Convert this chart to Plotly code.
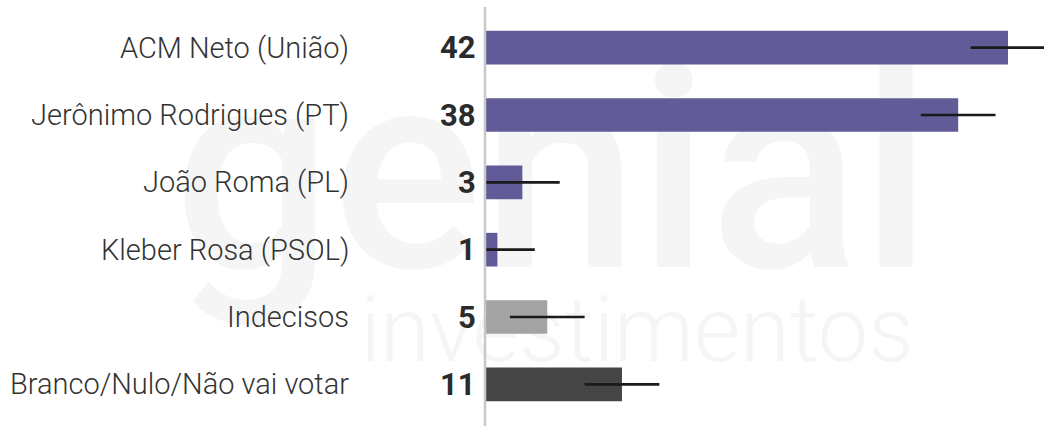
import plotly.graph_objects as go

categories = ["ACM Neto (União)", "Jerônimo Rodrigues (PT)", "João Roma (PL)",
              "Kleber Rosa (PSOL)", "Indecisos", "Branco/Nulo/Não vai votar"]
values = [42, 38, 3, 1, 5, 11]
margin_error = [3, 3, 3, 3, 3, 3]
bar_colors = ["#615b98", "#615b98", "#615b98", "#615b98", "#a3a3a3", "#454545"]

W, H = 1044, 426
L, R, T, B = 485, 0, 14, 8
pw = W - L - R
ph = H - T - B
px_per_unit = (1008 - 485) / 42


def px_x(page_x):
    return (page_x - L) / pw


def px_y(page_y):
    return (H - B - page_y) / ph


fig = go.Figure()
fig.add_trace(go.Bar(
    y=categories, x=values, orientation="h",
    marker=dict(color=bar_colors, line=dict(width=0)),
    error_x=dict(type="data", array=margin_error, visible=True,
                 color="#1a1a1a", thickness=2.6, width=0),
    width=0.5, hoverinfo="skip",
))

annotations = []
for c, v in zip(categories, values):
    annotations.append(dict(x=px_x(351), xref="paper", y=c, yref="y",
                            text=c, showarrow=False, xanchor="right",
                            font=dict(family="Roboto", size=29, color="#333333", weight=300)))
    annotations.append(dict(x=px_x(478), xref="paper", y=c, yref="y",
                            text=str(v), showarrow=False, xanchor="right",
                            font=dict(family="Roboto", size=31, color="#2b2b2b", weight=700)))

shapes = [
    # watermark
    dict(type="rect", xref="paper", yref="paper", layer="below",
         x0=px_x(190), x1=px_x(915), y0=px_y(296), y1=px_y(6),
         line=dict(width=0), fillcolor="rgba(0,0,0,0)",
         label=dict(text="genial", textposition="middle center",
                    font=dict(family="Roboto", size=280, color="#f5f5f5", weight=500))),
    dict(type="rect", xref="paper", yref="paper", layer="below",
         x0=px_x(358), x1=px_x(916), y0=px_y(368), y1=px_y(278),
         line=dict(width=0), fillcolor="rgba(0,0,0,0)",
         label=dict(text="investimentos", textposition="middle center",
                    font=dict(family="Roboto", size=90, color="#f5f5f5", weight=300))),
    # axis line
    dict(type="line", xref="paper", yref="paper", x0=0, x1=0,
         y0=px_y(430), y1=px_y(7),
         line=dict(color="#c8c8c8", width=2.5), layer="above"),
]

fig.update_layout(
    width=W, height=H,
    margin=dict(l=L, r=R, t=T, b=B),
    paper_bgcolor="white", plot_bgcolor="rgba(0,0,0,0)",
    showlegend=False,
    xaxis=dict(range=[0, (W - L) / px_per_unit], visible=False, fixedrange=True),
    yaxis=dict(autorange="reversed", visible=False, fixedrange=True),
    annotations=annotations,
    shapes=shapes,
    bargap=0.5,
)

fig.write_html("out.html", config={"displayModeBar": False},
               post_script="document.body.style.margin='0';document.body.style.overflow='hidden';")
